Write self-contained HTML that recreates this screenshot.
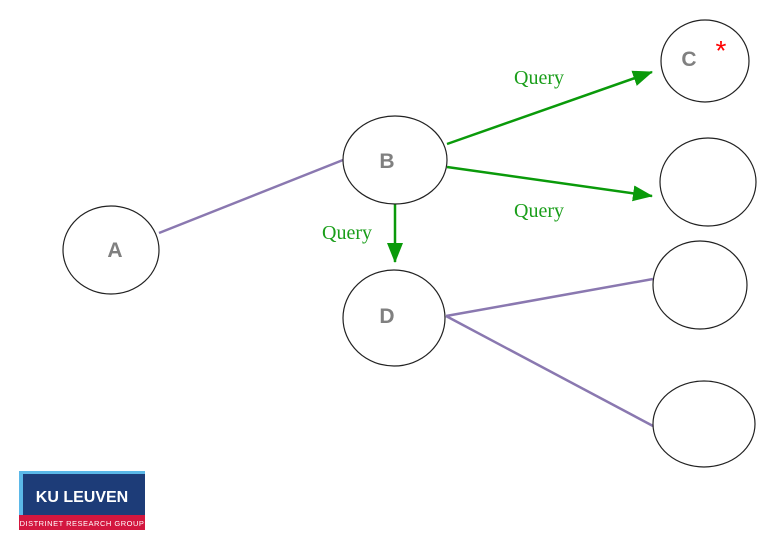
<!DOCTYPE html>
<html><head><style>
body{margin:0;background:#fff;width:779px;height:542px;overflow:hidden}
</style></head><body>
<svg width="779" height="542" viewBox="0 0 779 542" xmlns="http://www.w3.org/2000/svg">
<defs><marker id="ar" markerWidth="10" markerHeight="10" refX="9" refY="5" orient="auto" markerUnits="userSpaceOnUse" viewBox="0 0 10 10"><path d="M0,0 L10,5 L0,10 z" fill="#0a9a0a"/></marker>
<marker id="ar2" markerWidth="20" markerHeight="16" refX="19" refY="8" orient="auto" markerUnits="userSpaceOnUse" viewBox="0 0 20 16"><path d="M0,0 L20,8 L0,16 z" fill="#0a9a0a"/></marker></defs>
<g stroke="#8a78b0" stroke-width="2.5" fill="none">
<line x1="159" y1="233" x2="343" y2="160"/>
<line x1="446" y1="316" x2="653" y2="279"/>
<line x1="446" y1="316" x2="653" y2="426"/>
</g>
<g stroke="#0a9a0a" stroke-width="2.5" fill="none">
<line x1="447" y1="144" x2="652" y2="72" marker-end="url(#ar2)"/>
<line x1="447" y1="167" x2="652" y2="196" marker-end="url(#ar2)"/>
<line x1="395" y1="204" x2="395" y2="262" marker-end="url(#ar2)"/>
</g>
<g fill="#fff" stroke="#222" stroke-width="1.2">
<ellipse cx="111" cy="250" rx="48" ry="44"/>
<ellipse cx="395" cy="160" rx="52" ry="44"/>
<ellipse cx="394" cy="318" rx="51" ry="48"/>
<ellipse cx="705" cy="61" rx="44" ry="41"/>
<ellipse cx="708" cy="182" rx="48" ry="44"/>
<ellipse cx="700" cy="285" rx="47" ry="44"/>
<ellipse cx="704" cy="424" rx="51" ry="43"/>
</g>
<g font-family="Liberation Sans, sans-serif" font-weight="bold" font-size="21" fill="#808080" text-anchor="middle">
<text x="115" y="257">A</text>
<text x="387" y="168">B</text>
<text x="387" y="323">D</text>
<text x="689" y="66">C</text>
</g>
<text x="721" y="60" font-family="Liberation Sans, sans-serif" font-size="28" fill="#f00" text-anchor="middle">*</text>
<g font-family="Liberation Serif, serif" font-size="20" fill="#1a9e1a">
<text x="514" y="84">Query</text>
<text x="514" y="217">Query</text>
<text x="322" y="239">Query</text>
</g>
<rect x="19" y="471" width="126" height="44" fill="#5bb8e8"/>
<rect x="23" y="474" width="122" height="41" fill="#1d3c78"/>
<text x="82" y="502" font-family="Liberation Sans, sans-serif" font-weight="bold" font-size="16" fill="#fff" text-anchor="middle">KU LEUVEN</text>
<rect x="19" y="515" width="126" height="15" fill="#d3173f"/>
<text x="82" y="526" font-family="Liberation Sans, sans-serif" font-size="7.5" fill="#fff" text-anchor="middle" letter-spacing="0.5">DISTRINET RESEARCH GROUP</text>
</svg>
</body></html>
